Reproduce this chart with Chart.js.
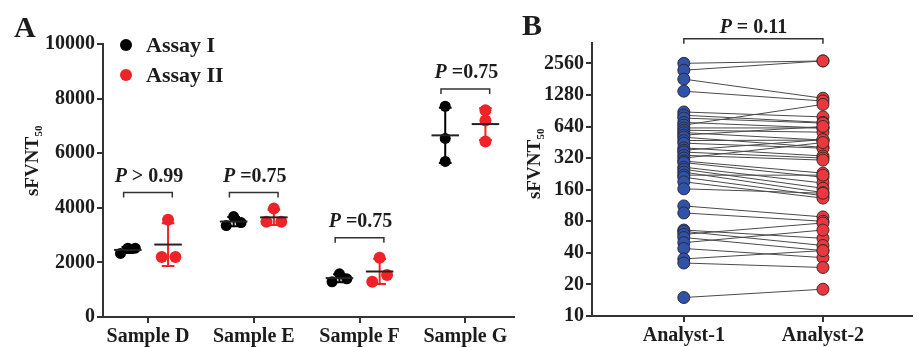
<!DOCTYPE html>
<html>
<head>
<meta charset="utf-8">
<script src="https://cdn.jsdelivr.net/npm/chart.js@4.4.1/dist/chart.umd.min.js"></script>
<style>
  html, body { margin: 0; padding: 0; background: #fff; }
  #wrapA { position: absolute; left: 0; top: 0; width: 520px; height: 347px; }
  #wrapB { position: absolute; left: 520px; top: 0; width: 399px; height: 347px; }
</style>
</head>
<body>
<div id="wrapA"><canvas id="chartA"></canvas></div>
<div id="wrapB"><canvas id="chartB"></canvas></div>
<script>
//-----PANEL A data
const samples = ['Sample D', 'Sample E', 'Sample F', 'Sample G']
const assayI = [[2330, 2520, 2520], [3350, 3680, 3460], [1290, 1580, 1400], [7720, 6540, 5700]]
const assayII = [[2200, 3560, 2200], [3490, 3970, 3490], [1290, 2170, 1540], [7570, 7200, 6430]]
// horizontal scatter of overlapping points (category units)
const spreadI = [[-0.07, 0, 0.07], [-0.07, 0, 0.07], [-0.07, 0, 0.07], [0, 0, 0]]
const spreadII = [[-0.06, 0, 0.07], [-0.07, 0, 0.07], [-0.07, 0, 0.07], [0, 0, 0]]
const pTextA = [' > 0.99', ' =0.75', ' =0.75', ' =0.75']
const bracketA = [4560, 4560, 2900, 8350]
const ticksA = [0, 2000, 4000, 6000, 8000, 10000]

//-----PANEL B data
const analysts = ['Analyst-1', 'Analyst-2']
const analyst1 = [2560, 2200, 1810, 1390, 880, 820, 770, 700, 660, 620, 590, 560, 530, 506, 470, 444, 400, 380, 365, 340,
  320, 300, 290, 262, 250, 235, 220, 210, 190, 163, 112, 96, 66, 64, 60, 56, 50, 44, 35, 32, 15]
const analyst2 = [2700, 2700, 1190, 1120, 790, 700, 690, 620, 1040, 620, 565, 475, 640, 405, 475, 398, 335, 480, 320, 306,
  450, 230, 210, 185, 165, 150, 220, 140, 133, 148, 88, 80, 55, 47, 77, 42, 66, 36, 42, 29, 18]
const ticksB = [10, 20, 40, 80, 160, 320, 640, 1280, 2560]
const pTextB = ' = 0.11'
const bracketB = 4400

const serif = "'Liberation Serif', 'Times New Roman', serif"
const ink = '#1c1c1c'
const redA = '#ee2327'
const blueB = '#3052a8'
const redB = '#e9393e'

Chart.defaults.font.family = serif
Chart.defaults.color = ink

const mean = arr => arr.reduce((a, b) => a + b, 0) / arr.length
const sd = arr => {
  const m = mean(arr)
  return Math.sqrt(arr.reduce((a, b) => a + (b - m) * (b - m), 0) / (arr.length - 1))
}

function drawYTitle(ctx, cx, cy) {
  ctx.save()
  ctx.translate(cx, cy)
  ctx.rotate(-Math.PI / 2)
  ctx.fillStyle = ink
  ctx.textBaseline = 'alphabetic'
  ctx.textAlign = 'left'
  ctx.font = 'bold 19px ' + serif
  const w = ctx.measureText('sFVNT').width
  ctx.font = 'bold 11px ' + serif
  const sw = ctx.measureText('50').width
  const start = -(w + sw) / 2
  ctx.font = 'bold 19px ' + serif
  ctx.fillText('sFVNT', start, 6.5)
  ctx.font = 'bold 11px ' + serif
  ctx.fillText('50', start + w + 0.5, 11)
  ctx.restore()
}

function drawPText(ctx, cx, baseY, rest) {
  ctx.save()
  ctx.fillStyle = ink
  ctx.textBaseline = 'alphabetic'
  ctx.textAlign = 'left'
  ctx.font = 'italic bold 20px ' + serif
  const pw = ctx.measureText('P').width
  ctx.font = 'bold 20px ' + serif
  const rw = ctx.measureText(rest).width
  const start = cx - (pw + rw) / 2
  ctx.font = 'italic bold 20px ' + serif
  ctx.fillText('P', start, baseY)
  ctx.font = 'bold 20px ' + serif
  ctx.fillText(rest, start + pw, baseY)
  ctx.restore()
}

function drawBracket(ctx, x1, x2, y) {
  ctx.save()
  ctx.strokeStyle = '#333'
  ctx.lineWidth = 1.5
  ctx.beginPath()
  ctx.moveTo(x1, y + 5)
  ctx.lineTo(x1, y)
  ctx.lineTo(x2, y)
  ctx.lineTo(x2, y + 5)
  ctx.stroke()
  ctx.restore()
}

//-----GRAFICO A
const groupsA = [
  { label: 'Assay I', values: assayI, spread: spreadI, shift: -0.19, color: '#000000', radius: 5.5 },
  { label: 'Assay II', values: assayII, spread: spreadII, shift: 0.19, color: redA, radius: 6 }
]

const panelAPlugin = {
  id: 'panelA',
  afterDatasetsDraw(chart) {
    const ctx = chart.ctx
    const x = chart.scales.x
    const y = chart.scales.y
    // mean +/- SD
    groupsA.forEach(g => {
      g.values.forEach((vals, i) => {
        const m = mean(vals)
        const s = sd(vals)
        const cx = x.getPixelForValue(i + 1 + g.shift)
        const half = (x.getPixelForValue(0.13) - x.getPixelForValue(0))
        const cap = (x.getPixelForValue(0.06) - x.getPixelForValue(0))
        const yTop = y.getPixelForValue(m + s)
        const yBot = y.getPixelForValue(m - s)
        const yM = y.getPixelForValue(m)
        ctx.save()
        ctx.strokeStyle = g.color
        ctx.lineWidth = 2
        ctx.beginPath()
        ctx.moveTo(cx, yTop); ctx.lineTo(cx, yBot)
        ctx.moveTo(cx - cap, yTop); ctx.lineTo(cx + cap, yTop)
        ctx.moveTo(cx - cap, yBot); ctx.lineTo(cx + cap, yBot)
        ctx.stroke()
        ctx.strokeStyle = '#222'
        ctx.beginPath()
        ctx.moveTo(cx - half, yM); ctx.lineTo(cx + half, yM)
        ctx.stroke()
        ctx.restore()
      })
    })
  },
  afterDraw(chart) {
    const ctx = chart.ctx
    const x = chart.scales.x
    const y = chart.scales.y
    const area = chart.chartArea
    // brackets + P values
    samples.forEach((s, i) => {
      const by = y.getPixelForValue(bracketA[i])
      const x1 = x.getPixelForValue(i + 1 - 0.23)
      const x2 = x.getPixelForValue(i + 1 + 0.23)
      drawBracket(ctx, x1, x2, by)
      drawPText(ctx, (x1 + x2) / 2 + 1, by - 11, pTextA[i])
    })
    // legend
    chart.data.datasets.forEach((ds, i) => {
      const ly = area.top + 1 + i * 30
      const lx = area.left + 23
      ctx.save()
      ctx.fillStyle = ds.backgroundColor
      ctx.beginPath()
      ctx.arc(lx, ly, 6, 0, Math.PI * 2)
      ctx.fill()
      ctx.fillStyle = ink
      ctx.font = 'bold 22px ' + serif
      ctx.textBaseline = 'middle'
      ctx.fillText(ds.label, lx + 20, ly + 1)
      ctx.restore()
    })
    // panel letter + axis title
    ctx.save()
    ctx.fillStyle = ink
    ctx.font = 'bold 30px ' + serif
    ctx.textBaseline = 'alphabetic'
    ctx.fillText('A', 14, 37)
    ctx.restore()
    drawYTitle(ctx, 31, 161)
  }
}

new Chart(document.getElementById('chartA'), {
  type: 'scatter',
  data: {
    datasets: groupsA.map(g => ({
      label: g.label,
      data: g.values.flatMap((vals, i) => vals.map((v, j) => ({ x: i + 1 + g.shift + g.spread[i][j], y: v }))),
      backgroundColor: g.color,
      borderWidth: 0,
      pointRadius: g.radius
    }))
  },
  options: {
    responsive: true,
    maintainAspectRatio: false,
    animation: false,
    events: [],
    layout: { padding: { top: 44, left: 0, right: 5, bottom: 0 } },
    plugins: { legend: { display: false }, tooltip: { enabled: false } },
    scales: {
      x: {
        type: 'linear',
        min: 0.575,
        max: 4.46,
        afterBuildTicks: scale => { scale.ticks = samples.map((s, i) => ({ value: i + 1 })) },
        afterFit: scale => { scale.height = 30 },
        ticks: {
          callback: v => samples[v - 1],
          font: { size: 20, weight: 'bold' },
          color: ink,
          padding: 2,
          maxRotation: 0,
          autoSkip: false
        },
        grid: { drawOnChartArea: false, drawTicks: true, tickLength: 6, color: '#333', lineWidth: 2 },
        border: { color: '#333', width: 2 }
      },
      y: {
        min: 0,
        max: 10000,
        afterBuildTicks: scale => { scale.ticks = ticksA.map(v => ({ value: v })) },
        afterFit: scale => { scale.width = 103 },
        ticks: { callback: v => String(v), font: { size: 20, weight: 'bold' }, color: ink, padding: 2 },
        grid: { drawOnChartArea: false, drawTicks: true, tickLength: 6, color: '#333', lineWidth: 2 },
        border: { color: '#333', width: 2 }
      }
    }
  },
  plugins: [panelAPlugin]
})

//-----GRAFICO B
const panelBPlugin = {
  id: 'panelB',
  afterDraw(chart) {
    const ctx = chart.ctx
    const x = chart.scales.x
    const y = chart.scales.y
    const by = y.getPixelForValue(bracketB)
    const x1 = x.getPixelForValue(0)
    const x2 = x.getPixelForValue(1)
    drawBracket(ctx, x1, x2, by)
    drawPText(ctx, (x1 + x2) / 2, by - 6, pTextB)
    ctx.save()
    ctx.fillStyle = ink
    ctx.font = 'bold 30px ' + serif
    ctx.textBaseline = 'alphabetic'
    ctx.fillText('B', 2, 35)
    ctx.restore()
    drawYTitle(ctx, 13, 164)
  }
}

const pairLines = analyst1.map((v, i) => ({
  type: 'line',
  data: [{ x: 0, y: v }, { x: 1, y: analyst2[i] }],
  borderColor: '#4a4a4a',
  borderWidth: 1,
  pointRadius: 0,
  order: 3
}))

new Chart(document.getElementById('chartB'), {
  type: 'scatter',
  data: {
    datasets: [
      {
        label: 'Analyst-1',
        data: analyst1.map(v => ({ x: 0, y: v })),
        backgroundColor: blueB,
        borderColor: '#2a2a3a',
        borderWidth: 1,
        pointRadius: 6,
        order: 1
      },
      {
        label: 'Analyst-2',
        data: analyst2.map(v => ({ x: 1, y: v })),
        backgroundColor: redB,
        borderColor: '#3a2a2a',
        borderWidth: 1,
        pointRadius: 6,
        order: 1
      },
      ...pairLines
    ]
  },
  options: {
    responsive: true,
    maintainAspectRatio: false,
    animation: false,
    events: [],
    layout: { padding: { top: 43, left: 0, right: 0, bottom: 0 } },
    plugins: { legend: { display: false }, tooltip: { enabled: false } },
    scales: {
      x: {
        type: 'linear',
        min: -0.66,
        max: 1.64,
        afterBuildTicks: scale => { scale.ticks = analysts.map((a, i) => ({ value: i })) },
        afterFit: scale => { scale.height = 31 },
        ticks: {
          callback: v => analysts[v],
          font: { size: 20, weight: 'bold' },
          color: ink,
          padding: 2,
          maxRotation: 0,
          autoSkip: false
        },
        grid: { drawOnChartArea: false, drawTicks: true, tickLength: 6, color: '#333', lineWidth: 2 },
        border: { color: '#333', width: 2 }
      },
      y: {
        type: 'logarithmic',
        min: 10,
        max: 4000,
        afterBuildTicks: scale => { scale.ticks = ticksB.map(v => ({ value: v })) },
        afterFit: scale => { scale.width = 72 },
        ticks: { callback: v => String(v), font: { size: 20, weight: 'bold' }, color: ink, padding: 2 },
        grid: { drawOnChartArea: false, drawTicks: true, tickLength: 6, color: '#333', lineWidth: 2 },
        border: { color: '#333', width: 2 }
      }
    }
  },
  plugins: [panelBPlugin]
})
</script>
</body>
</html>
